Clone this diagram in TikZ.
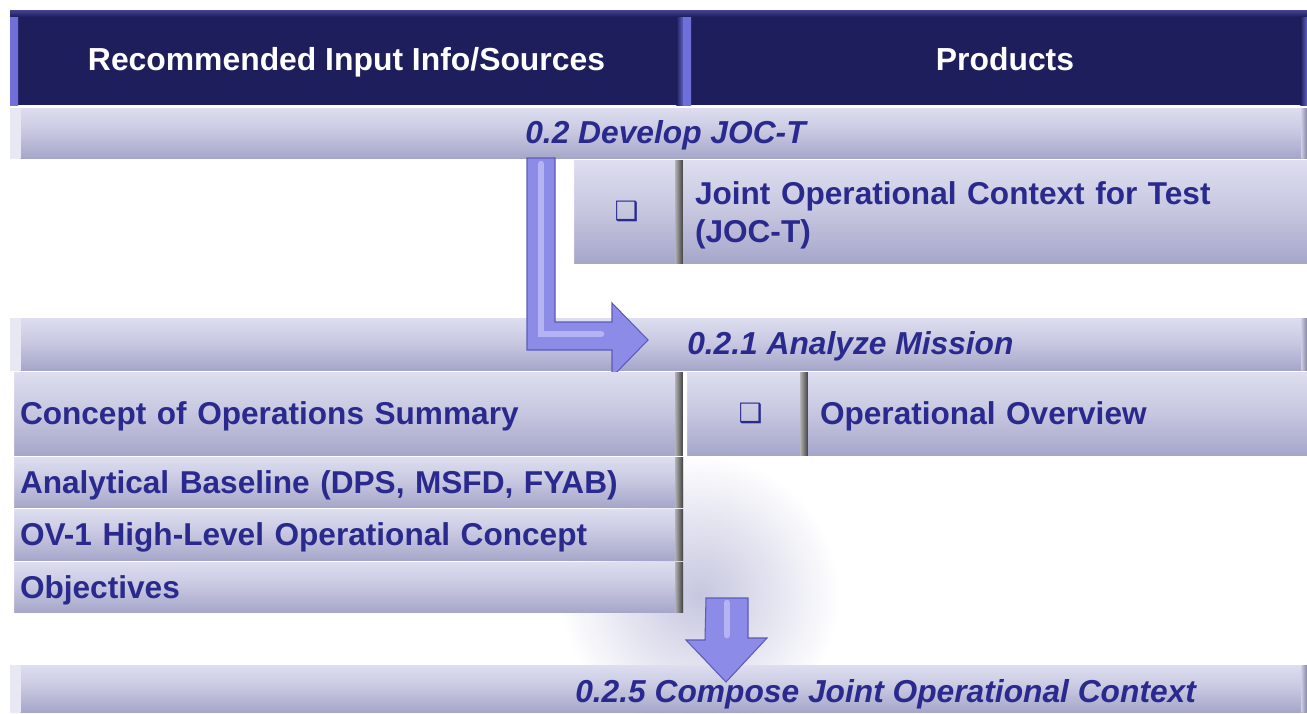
\documentclass[tikz,border=0pt]{standalone}
\usepackage{fontspec}
\setmainfont{Liberation Sans}
\newfontfamily\dejavu{DejaVu Sans}
\usetikzlibrary{arrows.meta,calc}
\definecolor{navy}{HTML}{1E1E5C}
\definecolor{navyedge}{HTML}{7070DA}
\definecolor{bartop}{HTML}{DEDEF0}
\definecolor{barmid}{HTML}{C6C6E0}
\definecolor{barbot}{HTML}{A6A6CA}
\definecolor{txtblue}{HTML}{2A2A8E}
\definecolor{arrowc}{HTML}{8C8CE8}
\definecolor{arrowdark}{HTML}{5C5CB8}
\definecolor{arrowlight}{HTML}{B4B4F4}
\newcommand\mytxt{\fontsize{23.7}{29}\selectfont\bfseries}
\newcommand\myttl{\fontsize{23.8}{27}\selectfont\bfseries\itshape}
\newcommand\myhdr{\fontsize{23.9}{28}\selectfont\bfseries}
\tikzset{
  base/.style={rectangle, inner sep=0pt, outer sep=0pt, anchor=north west},
  hdr/.style={base, fill=navy, text=white, font=\myhdr, text height=24pt, text depth=5pt, path picture={
    \shade[left color=navyedge, right color=navy] (path picture bounding box.north west) rectangle ([xshift=6pt]path picture bounding box.south west);
    \shade[left color=navy, right color=navyedge!80!navy] ([xshift=-5pt]path picture bounding box.north east) rectangle (path picture bounding box.south east);
    \shade[top color=navyedge!45!navy, bottom color=navy] (path picture bounding box.north west) rectangle ([yshift=-5pt]path picture bounding box.north east);}},
  bar/.style={base, top color=bartop, bottom color=barbot, middle color=barmid, path picture={
    \shade[left color=white!60!barmid, right color=barmid] (path picture bounding box.north west) rectangle ([xshift=8pt]path picture bounding box.south west);
    \shade[left color=barmid, right color=barbot!80!black] ([xshift=-4pt]path picture bounding box.north east) rectangle (path picture bounding box.south east);}},
  item/.style={base, top color=bartop, bottom color=barbot, middle color=barmid, text=txtblue, font=\mytxt, align=left, text height=22pt, text depth=5.2pt, path picture={
    \shade[left color=white, right color=barmid] (path picture bounding box.north west) rectangle ([xshift=3pt]path picture bounding box.south west);
    \shade[left color=black!30, right color=black!75] ([xshift=-6pt]path picture bounding box.north east) rectangle (path picture bounding box.south east);}},
  prod/.style={base, top color=bartop, bottom color=barbot, middle color=barmid, text=txtblue, font=\mytxt, align=left},
  ttl/.style={text=txtblue, font=\myttl, inner sep=0pt, text height=20pt, text depth=5.2pt},
  chk/.style={text=txtblue, font=\dejavu\fontsize{20}{20}\selectfont, inner sep=0pt},
  fatarrow/.style={draw=arrowdark, line width=0.8pt, fill=arrowc, line join=miter},
  highl/.style={draw=arrowlight, line width=5pt, line cap=round},
}
\begin{document}
\begin{tikzpicture}[x=0.75pt,y=-0.75pt]
\useasboundingbox[fill=white] (0,0) rectangle (1307,714);
% glow behind the down arrow
\shade[inner color=barmid, outer color=white] (700,595) circle (105pt);
% header
\node[hdr, minimum width=504.75pt, minimum height=71.25pt] (h1) at (10,10) {Recommended Input Info/Sources};
\node[hdr, minimum width=468pt, minimum height=71.25pt] (h2) at (683,10) {\hspace*{15pt}Products};
% 0.2 bar
\node[bar, minimum width=972.75pt, minimum height=37.5pt] (b02) at (10,108) {};
\node[ttl] (t02) at ($(b02.center)+(7,1)$) {0.2 Develop JOC-T};
% JOC-T row
\node[item, minimum width=84.75pt, minimum height=77.25pt] (k1) at (570,160) {};
\node[chk] (k1s) at (k1.center) {❑};
\node[prod, minimum width=468pt, minimum height=77.25pt, text width=450pt, text height=23pt] (p1) at (683,160) {Joint Operational Context for Test\\(JOC-T)};
% 0.2.1 bar
\node[bar, minimum width=972.75pt, minimum height=39pt] (b021) at (10,318) {};
\node[ttl, anchor=west] (t021) at ($(b021.west)+(677,1)$) {0.2.1 Analyze Mission};
% L-shaped arrow from 0.2 to 0.2.1
\coordinate (la) at ($(b02.south west)+(517,0)$);
\coordinate (lb) at ($(b021.west)+(638,-4)$);
\path[fatarrow] (la) -- ++(28,0) -- ++(0,164) -- ++(57,0) -- ++(0,-19) -- (lb) -- ++(-36,37) -- ++(0,-27) -- ++(-85,0) -- cycle;
\draw[highl] ($(la)+(14,6)$) -- ++(0,170) -- ++(60,0);
% Concept row
\node[item, minimum width=504.75pt, minimum height=62.25pt, text width=489.75pt] (c1) at (10,372) {Concept of Operations Summary};
\node[item, minimum width=93.75pt, minimum height=62.25pt] (k2) at (683,372) {};
\node[chk] (k2s) at ($(k2.center)+(5,0)$) {❑};
\node[prod, minimum width=374.25pt, minimum height=62.25pt, text width=356.25pt, text height=22pt, text depth=5.2pt] (p2) at (808,372) {Operational Overview};
% remaining inputs
\node[item, minimum width=504.75pt, minimum height=37.5pt, text width=489.75pt] (c2) at (10,457) {Analytical Baseline (DPS, MSFD, FYAB)};
\node[item, minimum width=504.75pt, minimum height=38.25pt, text width=489.75pt] (c3) at (10,509) {OV-1 High-Level Operational Concept};
\node[item, minimum width=504.75pt, minimum height=37.5pt, text width=489.75pt] (c4) at (10,562) {Objectives};
% 0.2.5 bar
\node[bar, minimum width=972.75pt, minimum height=35.25pt] (b025) at (10,665) {};
\node[ttl, anchor=west] (t025) at ($(b025.west)+(565,4)$) {0.2.5 Compose Joint Operational Context};
% down arrow from inputs to 0.2.5
\coordinate (da) at ($(c4.north east)+(23,36)$);
\coordinate (db) at ($(b025.north west)+(716,17)$);
\path[fatarrow] (da) -- ++(42,0) -- ++(0,40) -- ++(19,0) -- (db) -- ++(-40,-42) -- ++(19,0) -- cycle;
\draw[highl] ($(da)+(21,5)$) -- ++(0,32);
\end{tikzpicture}
\end{document}
